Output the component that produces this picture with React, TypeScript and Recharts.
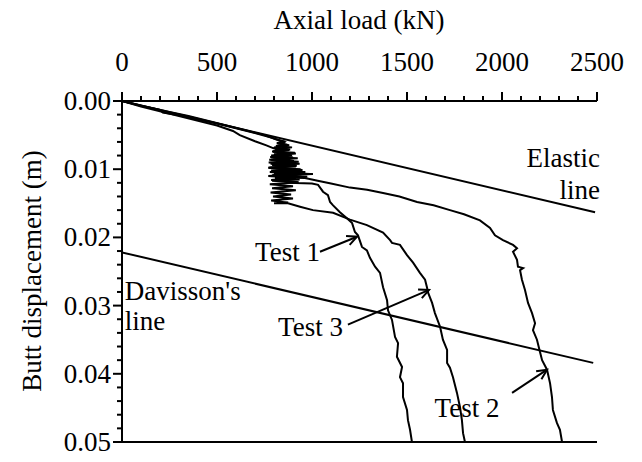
import { LineChart, Line, XAxis, YAxis, ReferenceLine, ReferenceDot, Customized } from 'recharts'

const FONT = '"Liberation Serif", "Times New Roman", serif'
const FS = 27

// axis ticks: every 100 kN, every 0.002 m; labelled on the majors only
const loadTicks = Array.from({ length: 26 }, (_, i) => i * 100)
const dispTicks = Array.from({ length: 26 }, (_, i) => +(i * 0.002).toFixed(3))

type Pt = { load: number; disp: number }
const pts = (rows: number[][]): Pt[] => rows.map(([load, disp]) => ({ load, disp }))

// load (kN) vs butt displacement (m)
const test1 = pts([
  [0, 0], [100, 0.0007], [200, 0.0013], [215, 0.0017], [300, 0.0021], [400, 0.0027], [500, 0.0033],
  [600, 0.004], [700, 0.0047], [790, 0.0054], [830, 0.0058],
  [860, 0.006], [820, 0.0062], [870, 0.0064], [810, 0.0066], [895, 0.0068], [805, 0.007], [880, 0.0072],
  [790, 0.0074], [910, 0.0076], [800, 0.0078], [895, 0.008], [780, 0.0082], [925, 0.0084], [795, 0.0086],
  [905, 0.0088], [772, 0.009], [935, 0.0092], [790, 0.0094], [915, 0.0096], [778, 0.0098], [940, 0.01],
  [785, 0.0102], [965, 0.0104], [800, 0.0106], [1005, 0.0107], [790, 0.0109], [975, 0.0111], [805, 0.0113],
  [935, 0.0115], [790, 0.0117], [925, 0.0119], [870, 0.012], [1000, 0.0121],
  [1032, 0.0123], [1058, 0.0133], [1084, 0.0138], [1095, 0.0148], [1111, 0.0153], [1147, 0.0163],
  [1184, 0.0172], [1211, 0.0179], [1226, 0.0192], [1242, 0.0197], [1263, 0.0214], [1289, 0.0219],
  [1305, 0.023], [1332, 0.0243], [1358, 0.0252], [1374, 0.0273], [1395, 0.0292], [1400, 0.0307],
  [1421, 0.0321], [1437, 0.0346], [1453, 0.0355], [1447, 0.0375], [1474, 0.039], [1463, 0.0405],
  [1479, 0.0414], [1479, 0.0434], [1500, 0.0453], [1505, 0.0468], [1516, 0.0482], [1526, 0.05],
])

const test2 = pts([
  [0, 0], [120, 0.0008], [250, 0.0016], [350, 0.0022], [450, 0.0029], [550, 0.0036], [650, 0.0043],
  [750, 0.005], [810, 0.0056],
  [850, 0.0059], [815, 0.0062], [880, 0.0065], [800, 0.0068], [885, 0.0071], [795, 0.0074], [915, 0.0077],
  [785, 0.008], [900, 0.0083], [775, 0.0086], [930, 0.0089], [782, 0.0092], [920, 0.0095], [770, 0.0098],
  [950, 0.0101], [790, 0.0104], [990, 0.0107], [795, 0.0109], [945, 0.0111], [840, 0.0112], [963, 0.0113],
  [1030, 0.0117], [1100, 0.0121], [1200, 0.0127], [1290, 0.013], [1374, 0.0135], [1460, 0.014],
  [1553, 0.0148], [1640, 0.0153], [1726, 0.016], [1800, 0.0166], [1884, 0.0175], [1937, 0.0186],
  [1963, 0.0197], [2005, 0.0204], [2058, 0.0211], [2079, 0.0216], [2058, 0.0221], [2079, 0.0233],
  [2084, 0.0243], [2111, 0.0245], [2095, 0.0248], [2105, 0.0262], [2121, 0.0277], [2137, 0.0296],
  [2158, 0.0311], [2174, 0.0326], [2163, 0.0336], [2184, 0.035], [2200, 0.0368], [2211, 0.038],
  [2237, 0.0394], [2253, 0.0414], [2263, 0.0434], [2268, 0.0453], [2289, 0.0472], [2305, 0.0482],
  [2316, 0.05],
])

const test3 = pts([
  [0, 0], [100, 0.0008], [200, 0.0015], [300, 0.0022], [400, 0.0029], [500, 0.0036], [584, 0.0044],
  [620, 0.005], [700, 0.0059], [760, 0.0065], [795, 0.0069],
  [830, 0.0072], [795, 0.0074], [865, 0.0077], [805, 0.008], [875, 0.0083], [785, 0.0086], [900, 0.0089],
  [790, 0.0092], [910, 0.0095], [772, 0.0098], [905, 0.0101], [778, 0.0104], [925, 0.0107], [770, 0.011],
  [915, 0.0113], [785, 0.0116], [930, 0.0119], [778, 0.0122], [900, 0.0125], [790, 0.0128], [915, 0.0131],
  [782, 0.0134], [890, 0.0137], [795, 0.014], [900, 0.0143], [785, 0.0146], [875, 0.0149], [800, 0.015],
  [874, 0.015],
  [937, 0.0155], [1005, 0.016], [1111, 0.0164], [1200, 0.0174], [1289, 0.0182], [1374, 0.0193],
  [1411, 0.0204], [1421, 0.0208], [1463, 0.0211], [1500, 0.0226], [1532, 0.0237], [1568, 0.0252],
  [1595, 0.0262], [1605, 0.0273], [1611, 0.0281], [1632, 0.0296], [1647, 0.0311], [1674, 0.0331],
  [1689, 0.035], [1711, 0.0365], [1711, 0.0384], [1726, 0.0391], [1742, 0.0405], [1763, 0.0428],
  [1779, 0.0449], [1789, 0.0468], [1795, 0.0487], [1805, 0.05],
])

const elasticLine = pts([[0, 0], [2490, 0.0163]])
const davissonLine = pts([[0, 0.0222], [2480, 0.0384]])

// text notes and leader arrows, in data units
const notes = [
  { text: 'Elastic', load: 2500, disp: 0.0084, anchor: 'end' },
  { text: 'line', load: 2500, disp: 0.0131, anchor: 'end' },
  { text: "Davisson's", load: 15, disp: 0.0278, anchor: 'start' },
  { text: 'line', load: 15, disp: 0.0323, anchor: 'start' },
  { text: 'Test 1', load: 1026, disp: 0.0221, anchor: 'end' },
  { text: 'Test 3', load: 1147, disp: 0.0331, anchor: 'end' },
  { text: 'Test 2', load: 1816, disp: 0.045, anchor: 'middle' },
]

const arrows = [
  { from: [1042, 0.0221], to: [1237, 0.0199] },
  { from: [1189, 0.0328], to: [1616, 0.0277] },
  { from: [2053, 0.0428], to: [2237, 0.0394] },
]

const isMajorLoad = (v: number) => v % 500 === 0
const isMajorDisp = (v: number) => Math.abs(v * 100 - Math.round(v * 100)) < 1e-9

const LoadTick = ({ x, y, payload }: any) => {
  const major = isMajorLoad(payload.value)
  return (
    <g>
      <line x1={x} y1={y} x2={x} y2={y - (major ? 9 : 5)} stroke="#000" strokeWidth={2} />
      {major && (
        <text x={x} y={y - 39} dy="0.33em" textAnchor="middle" fontFamily={FONT} fontSize={FS} fill="#000">
          {payload.value}
        </text>
      )}
    </g>
  )
}

const DispTick = ({ x, y, payload }: any) => {
  const major = isMajorDisp(payload.value)
  return (
    <g>
      <line x1={x - (major ? 9 : 5)} y1={y} x2={x} y2={y} stroke="#000" strokeWidth={2} />
      {major && (
        <text x={x - 11} y={y} dy="0.33em" textAnchor="end" fontFamily={FONT} fontSize={FS} fill="#000">
          {payload.value.toFixed(2)}
        </text>
      )}
    </g>
  )
}

const Arrow = ({ x1, y1, x2, y2 }: any) => {
  const a = Math.atan2(y2 - y1, x2 - x1)
  const len = 11
  const spread = 0.45
  return (
    <g stroke="#000" strokeWidth={2} fill="none">
      <line x1={x1} y1={y1} x2={x2} y2={y2} />
      <polyline
        points={`${x2 - len * Math.cos(a - spread)},${y2 - len * Math.sin(a - spread)} ${x2},${y2} ${
          x2 - len * Math.cos(a + spread)
        },${y2 - len * Math.sin(a + spread)}`}
      />
    </g>
  )
}

const AxisTitles = () => (
  <g fontFamily={FONT} fontSize={FS} fill="#000">
    <text x={359} y={20} dy="0.33em" textAnchor="middle">Axial load (kN)</text>
    <text x={32} y={271} dy="0.33em" textAnchor="middle" transform="rotate(-90 32 271)">
      Butt displacement (m)
    </text>
  </g>
)

export default function App() {
  const series = [test1, test2, test3]
  return (
    <div style={{ position: 'absolute', left: 0, top: 0, background: '#fff' }}>
      <LineChart width={642} height={462} margin={{ top: 0, right: 45, bottom: 20, left: 0 }}>
        <XAxis
          xAxisId={0}
          dataKey="load"
          type="number"
          orientation="top"
          domain={[0, 2500]}
          ticks={loadTicks}
          interval={0}
          height={101}
          tickSize={0}
          tickMargin={0}
          tickLine={false}
          tick={<LoadTick />}
          axisLine={{ stroke: '#000', strokeWidth: 2 }}
          allowDataOverflow
        />
        <YAxis
          dataKey="disp"
          type="number"
          reversed
          domain={[0, 0.05]}
          ticks={dispTicks}
          interval={0}
          width={122}
          tickSize={0}
          tickMargin={0}
          tickLine={false}
          tick={<DispTick />}
          axisLine={{ stroke: '#000', strokeWidth: 2 }}
          allowDataOverflow
        />
        <ReferenceLine y={0.05} stroke="#000" strokeWidth={2} />
        <Line data={elasticLine} dataKey="disp" stroke="#000" strokeWidth={2} dot={false} isAnimationActive={false} />
        <Line data={davissonLine} dataKey="disp" stroke="#000" strokeWidth={2} dot={false} isAnimationActive={false} />
        {series.map((s, i) => (
          <Line
            key={i}
            data={s}
            dataKey="disp"
            type="linear"
            stroke="#000"
            strokeWidth={2}
            dot={false}
            isAnimationActive={false}
          />
        ))}
        {arrows.map((a, i) => (
          <ReferenceLine
            key={`a${i}`}
            segment={[
              { x: a.from[0], y: a.from[1] },
              { x: a.to[0], y: a.to[1] },
            ]}
            shape={(p: any) => <Arrow {...p} />}
          />
        ))}
        {notes.map((n, i) => (
          <ReferenceDot
            key={`n${i}`}
            x={n.load}
            y={n.disp}
            r={0}
            ifOverflow="visible"
            shape={(p: any) => (
              <text
                x={p.cx + (n.anchor === 'end' ? 3 : 0)}
                y={p.cy}
                dy="0.33em"
                textAnchor={n.anchor}
                fontFamily={FONT}
                fontSize={FS}
                fill="#000"
              >
                {n.text}
              </text>
            )}
          />
        ))}
        <Customized component={<AxisTitles />} />
      </LineChart>
    </div>
  )
}
